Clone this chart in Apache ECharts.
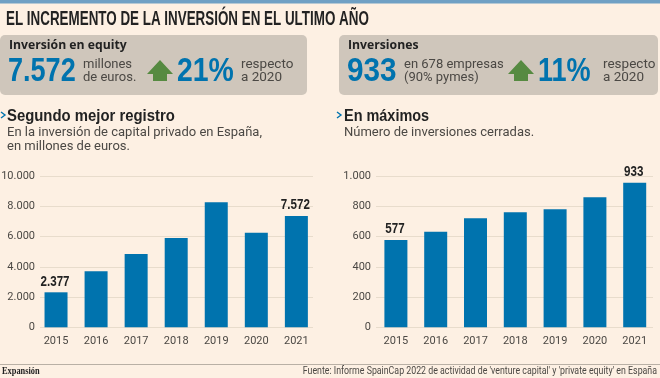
<!DOCTYPE html>
<html><head><meta charset="utf-8">
<style>html,body{margin:0;padding:0;background:#fdf0e3}#c{width:660px;height:378px}</style>
<script src="https://cdn.jsdelivr.net/npm/echarts@6/dist/echarts.min.js"></script>
</head><body><div id="c"></div>
<script>
const years = ['2015','2016','2017','2018','2019','2020','2021'];
const equityValues = [2313,3700,4846,5903,8260,6256,7357];
const equityPrinted = ['2.377','','','','','','7.572'];
const dealValues = [577,632,720,760,780,859,956];
const dealPrinted = ['577','','','','','','933'];

const HEAVY = '"Liberation Sans",Arimo,sans-serif';
const BODY = 'Roboto,"Liberation Sans",sans-serif';
const BLUE = '#0073ae', INK = '#222222', SOFT = '#4b4844', GRID = '#e8dccc', PANEL = '#cfc6bb';
const dot = v => v >= 1000 ? (v/1000).toFixed(3) : String(v);

const T = (x,y,text,size,weight,fill,font,align,scaleX) => ({type:'text',x,y,scaleX:scaleX||1,silent:true,z:10,
  style:{text,fontSize:size,fontWeight:weight||'normal',fill:fill||SOFT,fontFamily:font||BODY,align:align||'left',verticalAlign:'middle'}});
const arrow = (x) => ({type:'polygon',silent:true,z:10,shape:{points:[[x+13,60],[x+26,74],[x+20,74],[x+20,81],[x+6,81],[x+6,74],[x,74]]},style:{fill:'#568a41'}});
const chevron = (x) => ({type:'polyline',silent:true,z:10,shape:{points:[[x,112],[x+4,115],[x,118]]},style:{stroke:'#0073ae',lineWidth:1.4,fill:'none'}});

const graphic = [
  {type:'rect',silent:true,shape:{x:0,y:0,width:660,height:3.5},style:{fill:'#6fa0c4'}},
  {type:'rect',silent:true,shape:{x:0,y:35,width:307,height:60,r:5},style:{fill:PANEL}},
  {type:'rect',silent:true,shape:{x:339,y:35,width:319,height:60,r:5},style:{fill:PANEL}},
  {type:'rect',silent:true,shape:{x:0,y:364,width:660,height:1},style:{fill:'#b9b0a5'}},
  T(6,19,'EL INCREMENTO DE LA INVERSIÓN EN EL ULTIMO AÑO',20,'bold',INK,HEAVY,'left',0.67),
  T(9,45,'Inversión en equity',13,'bold',INK,'"Open Sans",sans-serif','left',0.94),
  T(348,45,'Inversiones',13,'bold',INK,'"Open Sans",sans-serif','left',0.94),
  T(8,72,'7.572',33,'bold',BLUE,HEAVY,'left',0.82),
  T(177,72,'21%',33,'bold',BLUE,HEAVY,'left',0.86),
  T(347,72,'933',33,'bold',BLUE,HEAVY,'left',0.9),
  T(538,72,'11%',33,'bold',BLUE,HEAVY,'left',0.82),
  T(83,65,'millones',13,null,SOFT),
  T(83,77.5,'de euros.',13,null,SOFT),
  T(241,65,'respecto',13.5,null,SOFT),
  T(241,77.5,'a 2020',13.5,null,SOFT),
  T(404,65,'en 678 empresas',13,null,SOFT),
  T(404,77.5,'(90% pymes)',13,null,SOFT),
  T(603,65,'respecto',13.5,null,SOFT),
  T(603,77.5,'a 2020',13.5,null,SOFT),
  arrow(147), arrow(508),
  chevron(1), chevron(337),
  T(7,116.5,'Segundo mejor registro',17,'bold',INK,HEAVY,'left',0.875),
  T(344,116.5,'En máximos',17,'bold',INK,HEAVY,'left',0.85),
  T(7,132.5,'En la inversión de capital privado en España,',13,null,SOFT),
  T(7,147,'en millones de euros.',13,null,SOFT),
  T(344,132.5,'Número de inversiones cerradas.',13,null,SOFT),
  T(2,372,'Expansión',9.5,'bold',INK,'"Liberation Serif",serif','left',0.88),
  T(657,371,"Fuente: Informe SpainCap 2022 de actividad de 'venture capital' y 'private equity' en España",11,null,SOFT,BODY,'right',0.8)
];

const gridTop = 176, gridH = 151.3;
const grids = [
  {left:40,width:273,top:gridTop,height:gridH,outerBoundsMode:'none'},
  {left:36,width:280.4,top:gridTop,height:gridH,outerBoundsMode:'none'},
  {left:376,width:277,top:gridTop,height:gridH,outerBoundsMode:'none'},
  {left:376,width:278.6,top:gridTop,height:gridH,outerBoundsMode:'none'}
];
const valAxis = (i,max,interval,show) => ({gridIndex:i,type:'value',min:0,max,interval,show:true,
  axisLine:{show:false},axisTick:{show:false},
  axisLabel:{show,color:SOFT,fontSize:11,fontFamily:BODY,margin:5,padding:[0,0,8,0],formatter:dot},
  splitLine:{show,lineStyle:{color:GRID,width:1}}});
const catAxis = (i,show) => ({gridIndex:i,type:'category',data:years,show,
  axisLine:{show:false},axisTick:{show:false},
  axisLabel:{color:SOFT,fontSize:11,fontFamily:BODY,margin:8,interval:0}});
const barSeries = (axis,values) => ({type:'bar',xAxisIndex:axis,yAxisIndex:axis,barWidth:23,z:3,
  itemStyle:{color:BLUE},silent:true,data:values});
const labelSeries = (axis,values,printed) => ({type:'custom',xAxisIndex:axis,yAxisIndex:axis,z:4,silent:true,
  data:values.map((v,i)=>[i,v]),
  renderItem:(params,api)=>{
    const text = printed[params.dataIndex];
    if(!text) return null;
    const p = api.coord([api.value(0),api.value(1)]);
    return {type:'text',x:p[0]-1,y:p[1]-3,scaleX:0.8,
      style:{text,fontSize:14.5,fontWeight:'bold',fill:INK,fontFamily:HEAVY,align:'center',verticalAlign:'bottom'}};
  }});
const empty = axis => ({type:'bar',xAxisIndex:axis,yAxisIndex:axis,data:[],silent:true});

const chart = echarts.init(document.getElementById('c'),null,{renderer:'canvas'});
chart.setOption({
  animation:false,backgroundColor:'#fdf0e3',graphic,grid:grids,
  xAxis:[catAxis(0,false),catAxis(1,true),catAxis(2,false),catAxis(3,true)],
  yAxis:[valAxis(0,10000,2000,true),valAxis(1,10000,2000,false),valAxis(2,1000,200,true),valAxis(3,1000,200,false)],
  series:[empty(0),barSeries(1,equityValues),labelSeries(1,equityValues,equityPrinted),
          empty(2),barSeries(3,dealValues),labelSeries(3,dealValues,dealPrinted)]
});
</script></body></html>
